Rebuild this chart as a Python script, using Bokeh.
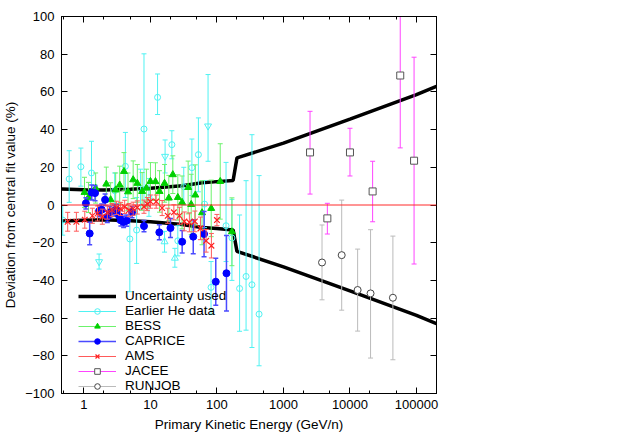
from bokeh.plotting import figure
from bokeh.models import (ColumnDataSource, Legend, LegendItem, Span, LinearAxis, LogAxis,
                          FixedTicker, PrintfTickFormatter)
from bokeh.embed import file_html
from bokeh.resources import INLINE

# ---------------- data ----------------
band_E = [0.46, 1, 2, 5, 10, 30, 60, 100, 175, 200, 1000, 10000, 100000, 200000]
band_upper = [8.5, 8.1, 7.9, 8.3, 8.9, 10.2, 11.8, 12.4, 13.0, 25.0, 32.8, 45.6, 58.5, 63.0]
band_lower = [-8.5, -8.1, -7.8, -8.3, -8.9, -10.3, -11.9, -12.5, -13.2, -24.6, -32.8, -45.6, -58.5, -63.0]

he_E = [0.48, 0.60, 0.90, 1.30, 2.9, 4.2, 4.9, 6.2, 7.1, 8.0, 9.5, 12.8, 21, 25.8, 31.7, 42, 52.6,
        65, 81.5, 137, 168, 219, 274, 336, 430]
he_val = [-8, 13.8, 20.3, 17, 7.6, 20.5, -18, -13.3, 8.8, 40.3, 4, 57.1, 32, -19, 9.7, 19.8, 26.7,
          0.5, -43.7, -11, -17.5, -44.3, -37.9, -42.3, -57.9]
he_lo = [-16, 1.4, 10, 3, -2, 4, -46, -31, -2, 0, -6, 48, 24.5, -27, 0, 5, 7,
         -12, -58, -30, -40, -67, -66.4, -75.6, -85.3]
he_hi = [0, 28.8, 30.2, 33.8, 17, 38.5, -2, 4, 19, 80.2, 14, 69.5, 39.4, -11, 20, 35, 46.2,
         13, -30, 22.6, 3, -5.3, 12.9, 37.3, 15.6]

he_dn_E = [1.69, 16.6, 73.5]
he_dn_val = [-30.1, 25.8, 41.9]
he_dn_lo = [-34, 17, 23.2]
he_dn_hi = [-26, 34.5, 69.2]

he_up_E = [16.3, 23.3]
he_up_val = [-19.5, -28.2]
he_up_lo = [-25, -33]
he_up_hi = [-14, -23]

bess_E = [1.02, 1.17, 1.5, 2.17, 2.52, 3.0, 3.45, 4.0, 4.6, 5.5, 6.35, 7.5, 8.7, 10.0, 11.9, 13.7,
          16.3, 18.9, 21.7, 25.8, 29.9, 36.9, 41, 47.3, 59.7, 82, 112, 168]
bess_val = [6.7, 4.0, 9, 11.1, 2.8, 8, 10.6, 17.8, 7, 13.4, 11.5, 7.2, 9, 12.5, 12.4, 7.2,
            11.5, 3.7, 16.1, 4.0, 1.4, 9.3, 0.3, 5.3, -4.1, -1.8, 12.5, -14.2]
bess_err = [8, 8, 8, 9, 9, 9, 10, 10, 10, 10, 10, 10, 10, 10, 10, 11,
            10, 12, 10, 12, 14, 14, 16, 16, 17, 15, 20, 18]

caprice_E = [1.07, 1.22, 1.31, 1.47, 1.69, 1.85, 2.08, 2.25, 2.45, 2.85, 3.1, 3.4, 3.6, 3.95, 4.4,
             5.3, 8.0, 13.6, 20, 30, 44, 64, 96, 139]
caprice_val = [0.9, -15.1, 6.6, 6.3, -3.2, -2.5, 2.8, -6.3, -3.8, -3.0, -2.6, -6.0, -8.2, -9.0, -8.3,
               -3.8, -11.2, -14.5, -12.2, -19.5, -16.8, -15.4, -40.7, -36.2]
caprice_err = [3, 6, 4, 4, 3, 3, 3, 3, 3, 3, 3, 3, 3, 3, 3,
               3, 3, 4, 5, 6, 9, 12, 12.5, 20]

ams_E = [0.57, 0.77, 1.03, 1.34, 1.6, 1.89, 2.25, 2.64, 3.1, 3.56, 4.1, 4.76, 5.5, 6.35, 8.0, 9.0,
         10.0, 12.2, 15.0, 18.2, 22.5, 27.3, 32.3, 38.5, 46.5, 56.5, 68.7, 82.5, 100]
ams_val = [-8.9, -8.9, -7.8, -5.7, -4.5, -6.2, -4.0, -2.7, -1.5, -2.1, -1.0, -2.7, -2.0, -1.3, -0.9, 0.5,
           1.8, 1.8, -1.6, -5.7, -3.9, -5.7, -8.7, -9.2, -8.7, -12.4, -19.0, -21.6, -8.0]
ams_err = [5, 5, 4.5, 4, 4, 4, 3.5, 3.5, 3.5, 3.5, 3.5, 3.5, 3.5, 3.5, 3.5, 3.5,
           3.5, 3.5, 4, 4, 4, 4.5, 5, 5, 5.5, 6, 6, 6.5, 3]

jacee_E = [2510, 4570, 10000, 21900, 57000, 92000]
jacee_val = [27.9, -7.1, 27.9, 7.2, 68.7, 23.5]
jacee_lo = [5.8, -15.4, 15.4, -8.9, 30.3, -31.3]
jacee_hi = [49.7, 0.9, 40.7, 23.2, 110, 78.4]

runjob_E = [3800, 7510, 13040, 20400, 44200]
runjob_val = [-30.5, -26.6, -45.1, -46.9, -49.2]
runjob_lo = [-50.3, -55.8, -66.9, -81.2, -82.1]
runjob_hi = [-10.6, 2.6, -23.4, -13.1, -16.5]

x_major = [1, 10, 100, 1000, 10000, 100000]
x_minor = [0.5, 2, 5, 20, 50, 200, 500, 2000, 5000, 20000, 50000, 200000]
y_ticks = [-100, -80, -60, -40, -20, 0, 20, 40, 60, 80, 100]

FONT = "Liberation Sans"

# ---------------- figure ----------------
p = figure(width=600, height=434, x_axis_type="log", x_range=(0.46, 2e5), y_range=(-100, 100),
           output_backend="svg", toolbar_location=None,
           min_border_left=59, min_border_right=164, min_border_top=16, min_border_bottom=38)
p.xgrid.visible = False
p.ygrid.visible = False
p.outline_line_color = "black"
p.background_fill_color = "white"

xt = FixedTicker(ticks=x_major, minor_ticks=x_minor)
yt = FixedTicker(ticks=y_ticks, minor_ticks=[])

def style_axis(ax, labels=True):
    ax.axis_line_color = "black"
    ax.major_tick_in = 6
    ax.major_tick_out = 0
    ax.minor_tick_in = 3
    ax.minor_tick_out = 0
    ax.major_tick_line_color = "black"
    ax.minor_tick_line_color = "black"
    if labels:
        ax.major_label_text_font = FONT
        ax.major_label_text_font_size = "13px"
        ax.major_label_text_color = "black"
        ax.axis_label_text_font = FONT
        ax.axis_label_text_font_size = "13.5px"
        ax.axis_label_text_font_style = "normal"
        ax.axis_label_text_color = "black"
    else:
        ax.major_label_text_font_size = "1px"
        ax.major_label_text_alpha = 0
        ax.major_label_standoff = 0

xa = p.xaxis[0]
xa.ticker = xt
xa.formatter = PrintfTickFormatter(format="%.0f")
xa.axis_label = "Primary Kinetic Energy (GeV/n)"
style_axis(xa)
xa.major_label_standoff = 6
xa.axis_label_standoff = 5

ya = p.yaxis[0]
ya.ticker = yt
ya.axis_label = "Deviation from central fit value (%)"
style_axis(ya)
ya.major_label_standoff = 7
ya.axis_label_standoff = 4

ra = LinearAxis(ticker=yt)
style_axis(ra, labels=False)
p.add_layout(ra, "right")
ta = LogAxis(ticker=xt)
style_axis(ta, labels=False)
p.add_layout(ta, "above")

p.add_layout(Span(location=0, dimension="width", line_color="#ff2a2a", line_width=1))

# band
r_band_u = p.line(band_E, band_upper, line_color="black", line_width=3.5)
p.line(band_E, band_lower, line_color="black", line_width=3.5)

def errbars(E, val, lo, hi, bar_color, bar_width=1, cap=5):
    src = ColumnDataSource(dict(E=E, val=val, lo=lo, hi=hi))
    seg = p.segment(x0="E", y0="lo", x1="E", y1="hi", source=src, line_color=bar_color,
                    line_width=bar_width)
    p.scatter(x="E", y="lo", source=src, marker="dash", size=cap, line_color=bar_color,
              line_width=bar_width)
    p.scatter(x="E", y="hi", source=src, marker="dash", size=cap, line_color=bar_color,
              line_width=bar_width)
    return src, seg

def sym(val, err):
    return [v - e for v, e in zip(val, err)], [v + e for v, e in zip(val, err)]

CY = "#4ff2f2"
s, he_seg = errbars(he_E, he_val, he_lo, he_hi, CY)
he_pts = p.scatter(x="E", y="val", source=s, marker="circle", size=6, fill_color=None,
                   line_color=CY, line_width=1)
s2, _ = errbars(he_dn_E, he_dn_val, he_dn_lo, he_dn_hi, CY)
p.scatter(x="E", y="val", source=s2, marker="inverted_triangle", size=7, fill_color=None,
          line_color=CY, line_width=1)
s3, _ = errbars(he_up_E, he_up_val, he_up_lo, he_up_hi, CY)
p.scatter(x="E", y="val", source=s3, marker="triangle", size=7, fill_color=None,
          line_color=CY, line_width=1)

lo, hi = sym(bess_val, bess_err)
s, bess_seg = errbars(bess_E, bess_val, lo, hi, "#6cf26c")
bess_pts = p.scatter(x="E", y="val", source=s, marker="triangle", size=7, fill_color="#00d000",
                     line_color="#00d000")

lo, hi = sym(caprice_val, caprice_err)
s, cap_seg = errbars(caprice_E, caprice_val, lo, hi, "#4a4aff", bar_width=1.5)
cap_pts = p.scatter(x="E", y="val", source=s, marker="circle", size=7, fill_color="#0000ff",
                    line_color="#0000ff")

lo, hi = sym(ams_val, ams_err)
s, ams_seg = errbars(ams_E, ams_val, lo, hi, "#ff5a5a")
ams_pts = p.scatter(x="E", y="val", source=s, marker="x", size=8, line_color="#ff2020",
                    line_width=1.2)

s, jac_seg = errbars(jacee_E, jacee_val, jacee_lo, jacee_hi, "#ff44ff")
jac_pts = p.scatter(x="E", y="val", source=s, marker="square", size=7, fill_color="white",
                    line_color="#555555", line_width=1)

s, run_seg = errbars(runjob_E, runjob_val, runjob_lo, runjob_hi, "#bbbbbb")
run_pts = p.scatter(x="E", y="val", source=s, marker="circle", size=7, fill_color="white",
                    line_color="#444444", line_width=1)

legend = Legend(items=[
    LegendItem(label="Uncertainty used", renderers=[r_band_u]),
    LegendItem(label="Earlier He data", renderers=[he_seg, he_pts]),
    LegendItem(label="BESS", renderers=[bess_seg, bess_pts]),
    LegendItem(label="CAPRICE", renderers=[cap_seg, cap_pts]),
    LegendItem(label="AMS", renderers=[ams_seg, ams_pts]),
    LegendItem(label="JACEE", renderers=[jac_seg, jac_pts]),
    LegendItem(label="RUNJOB", renderers=[run_seg, run_pts]),
], location=(17, 0))
legend.label_text_font = FONT
legend.label_text_font_size = "13.5px"
legend.label_text_line_height = 1.0
legend.label_text_color = "black"
legend.glyph_width = 38
legend.glyph_height = 14
legend.label_height = 14
legend.spacing = 0
legend.padding = 0
legend.margin = 0
legend.label_standoff = 9
legend.border_line_alpha = 0
legend.background_fill_alpha = 0
p.add_layout(legend)

open("out.html", "w").write(file_html(p, INLINE))
